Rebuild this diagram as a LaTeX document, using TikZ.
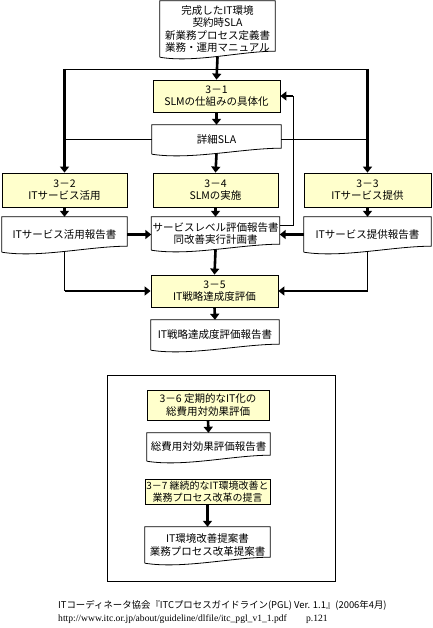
\documentclass[tikz,border=0pt]{standalone}
\usepackage{fontspec}
\setmainfont{Noto Sans CJK JP}
\newfontfamily\citefont{Liberation Serif}
\usepackage{tikz}
\usetikzlibrary{arrows.meta,calc}
\definecolor{procyellow}{HTML}{FFFFCC}
% document shape with a wavy lower edge
\newcommand{\docframe}[1]{%
  \draw[line width=0.8pt] (#1.south west) -- (#1.north west) -- (#1.north east) -- ([yshift=6pt]#1.south east)
    .. controls ($(#1.south west)!0.7!(#1.south east)+(0,6pt)$) and ($(#1.south west)!0.3!(#1.south east)+(0,-6pt)$) .. (#1.south west);}

\begin{document}
\begin{tikzpicture}[x=1pt,y=-1pt,
    every node/.style={font=\fontsize{10.5}{12.5}\selectfont,align=center,inner sep=1pt},
    proc/.style={draw,line width=0.8pt,fill=procyellow,minimum width=#1},
    proc/.default=125pt,
    docnode/.style={minimum width=#1},
    docnode/.default=125pt,
    arr/.style={-{Triangle[length=6pt,width=9pt]},line width=2.6pt},
    link/.style={line width=0.8pt}]
  \useasboundingbox (0,0) rectangle (432,628);
  % inputs and the SLM steps
  \node[docnode=115pt,minimum height=56pt] (src) at (217.5,29) {完成したIT環境\\契約時SLA\\新業務プロセス定義書\\業務・運用マニュアル};
  \node[proc=127pt,minimum height=32pt] (p31) at (216.5,96) {3－1\\SLMの仕組みの具体化};
  \node[docnode=129pt,minimum height=29pt] (sla) at (216.5,139.5) {詳細SLA};
  \node[proc,minimum height=34pt] (p32) at (64.5,190) {3－2\\ITサービス活用};
  \node[proc,minimum height=34pt] (p34) at (215.5,190) {3－4\\SLMの実施};
  \node[proc=127pt,minimum height=34pt] (p33) at (367.5,190) {3－3\\ITサービス提供};
  \node[docnode,minimum height=35pt] (r32) at (64.5,234.5) {ITサービス活用報告書};
  \node[docnode,minimum height=33pt] (slr) at (215.5,233.5) {サービスレベル評価報告書\\同改善実行計画書};
  \node[docnode=127pt,minimum height=35pt] (r33) at (367.5,234.5) {ITサービス提供報告書};
  \node[proc=127pt,minimum height=32pt] (p35) at (214.5,291) {3－5\\IT戦略達成度評価};
  \node[docnode=128pt,minimum height=30pt] (r35) at (215,335) {IT戦略達成度評価報告書};
  \foreach \n in {src,sla,r32,slr,r33,r35}
    \docframe{\n};
  % connectors
  \coordinate (bus) at (217.5,69);
  \draw[link] (p32.north |- bus) -- (p33.north |- bus);
  \draw[arr] (p32.north |- bus) -- (p32.north);
  \draw[arr] (p33.north |- bus) -- (p33.north);
  \draw[arr] (src.south) -- (p31.north);
  \draw[arr] (p31.south) -- (sla.north);
  \draw[link] (sla.west) -- (p32.north |- sla.west);
  \draw[link] (sla.east) -- (p33.north |- sla.east);
  \draw[arr] (sla.south) -- (p34.north);
  \draw[arr] (p32.south) -- (r32.north);
  \draw[arr] (p34.south) -- (slr.north);
  \draw[arr] (p33.south) -- (r33.north);
  \draw[arr] (r32.east) -- (slr.west |- r32.east);
  \draw[arr] (r33.west) -- (slr.east |- r33.west);
  % feedback to 3-1
  \coordinate (fb) at ([xshift=13pt]p31.east);
  \draw[link] ([yshift=8pt]slr.east) -| (fb);
  \draw[arr] (fb) -- (p31.east);
  \draw[link] (r32.south) -- (r32.south |- p35.west);
  \draw[arr] (r32.south |- p35.west) -- (p35.west);
  \draw[link] (r33.south) -- (r33.south |- p35.east);
  \draw[arr] (r33.south |- p35.east) -- (p35.east);
  \draw[arr] (slr.south) -- (p35.north);
  \draw[arr] (p35.south) -- (r35.north);
  % periodic evaluation
  \draw[link] (107,375) rectangle (335,581);
  \node[proc=122pt,minimum height=30pt] (p36) at (208,405) {3－6 定期的なIT化の\\総費用対効果評価};
  \node[docnode=123pt,minimum height=28pt] (r36) at (208.5,447) {総費用対効果評価報告書};
  \node[proc,minimum height=25pt,font=\fontsize{10}{11.5}\selectfont,inner sep=0pt] (p37) at (207.5,491.5) {3－7 継続的なIT環境改善と\\業務プロセス改革の提言};
  \node[docnode,minimum height=36pt] (r37) at (207.5,545) {IT環境改善提案書\\業務プロセス改革提案書};
  \docframe{r36}
  \docframe{r37}
  \draw[arr] (p36.south) -- (r36.north);
  \draw[arr] (p37.south) -- (r37.north);
  % source
  \node[anchor=west,font=\fontsize{9.4}{10}\selectfont] (cite1) at (57,605) {ITコーディネータ協会『ITCプロセスガイドライン(PGL) Ver. 1.1』(2006年4月)};
  \node[anchor=west,font=\citefont\fontsize{9.6}{10}\selectfont] (cite2) at (57,619) {http://www.itc.or.jp/about/guideline/dlfile/itc\_pgl\_v1\_1.pdf\hspace{2em}p.121};
\end{tikzpicture}
\end{document}
